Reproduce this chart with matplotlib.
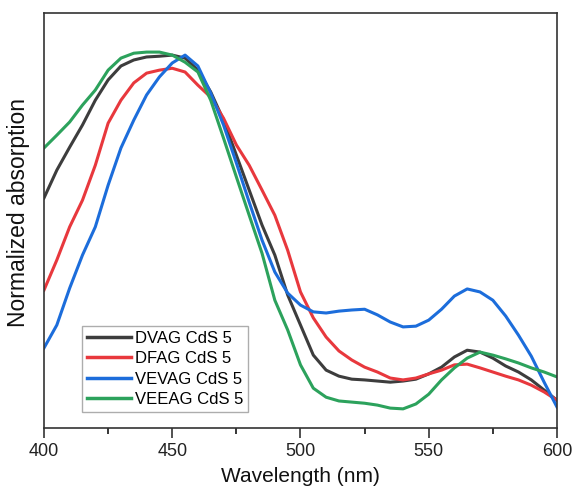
import numpy as np
import matplotlib
matplotlib.use('agg')
import matplotlib.pyplot as plt
from matplotlib.ticker import MultipleLocator

plt.rcParams['font.family'] = ['Liberation Sans', 'DejaVu Sans']

# wavelength grid (nm), values every 5 nm
wavelength = np.arange(400, 601, 5)

dvag = [0.612, 0.686, 0.747, 0.806, 0.872, 0.926, 0.963, 0.979, 0.987, 0.989,
        0.992, 0.984, 0.952, 0.894, 0.819, 0.726, 0.633, 0.540, 0.460, 0.354,
        0.274, 0.194, 0.154, 0.138, 0.130, 0.128, 0.125, 0.122, 0.125, 0.130,
        0.144, 0.162, 0.189, 0.207, 0.202, 0.186, 0.165, 0.149, 0.128, 0.101,
        0.074]
dfag = [0.367, 0.447, 0.535, 0.606, 0.699, 0.811, 0.872, 0.918, 0.944, 0.952,
        0.957, 0.947, 0.912, 0.880, 0.824, 0.753, 0.699, 0.633, 0.566, 0.473,
        0.362, 0.293, 0.242, 0.205, 0.181, 0.162, 0.149, 0.133, 0.128, 0.133,
        0.144, 0.154, 0.168, 0.170, 0.160, 0.149, 0.138, 0.128, 0.114, 0.096,
        0.074]
vevag = [0.213, 0.274, 0.372, 0.460, 0.535, 0.646, 0.745, 0.819, 0.886, 0.934,
         0.971, 0.992, 0.963, 0.891, 0.806, 0.705, 0.601, 0.500, 0.415, 0.359,
         0.327, 0.309, 0.306, 0.311, 0.314, 0.316, 0.301, 0.282, 0.269, 0.271,
         0.287, 0.316, 0.351, 0.370, 0.362, 0.340, 0.298, 0.247, 0.191, 0.122,
         0.056]
veeag = [0.745, 0.779, 0.814, 0.859, 0.899, 0.952, 0.984, 0.997, 1.000, 1.000,
         0.992, 0.973, 0.947, 0.872, 0.771, 0.668, 0.566, 0.465, 0.340, 0.261,
         0.168, 0.106, 0.082, 0.072, 0.069, 0.066, 0.061, 0.053, 0.051, 0.064,
         0.090, 0.128, 0.160, 0.186, 0.202, 0.194, 0.184, 0.173, 0.160, 0.149,
         0.136]

labels = ['DVAG CdS 5', 'DFAG CdS 5', 'VEVAG CdS 5', 'VEEAG CdS 5']
colors = ['#3d3d3d', '#e8383d', '#1c6ddb', '#2ca25c']

fig = plt.figure(figsize=(5.73, 4.92), dpi=100)
ax = fig.add_axes([0.0768, 0.130, 0.8952, 0.8436])

for y, lab, c in zip([dvag, dfag, vevag, veeag], labels, colors):
    ax.plot(wavelength, y, color=c, lw=2.2, label=lab)

ax.set_xlim(400, 600)
ax.set_ylim(0, 1.104)
ax.xaxis.set_major_locator(MultipleLocator(50))
ax.xaxis.set_minor_locator(MultipleLocator(25))
ax.tick_params(axis='x', which='major', direction='out', length=7, width=1.1,
               labelsize=13, pad=4, colors='#222222')
ax.tick_params(axis='x', which='minor', direction='out', length=4, width=1.1)
ax.set_yticks([])
for s in ax.spines.values():
    s.set_linewidth(1.2)
    s.set_color('#333333')

ax.set_xlabel('Wavelength (nm)', fontsize=15, labelpad=5, color='#111111')
ax.set_ylabel('Normalized absorption', fontsize=16.5, color='#111111')
ax.yaxis.set_label_coords(-0.028, 0.52)

leg = ax.legend(loc='lower left', bbox_to_anchor=(0.068, 0.03), fontsize=12,
                frameon=True, fancybox=False, handlelength=2.6,
                handletextpad=0.25, labelspacing=0.33, borderpad=0.3,
                borderaxespad=0.2)
leg.get_frame().set_edgecolor('#999999')
leg.get_frame().set_linewidth(1.0)
for line in leg.get_lines():
    line.set_linewidth(2.5)

fig.savefig('out.png', dpi=100)
